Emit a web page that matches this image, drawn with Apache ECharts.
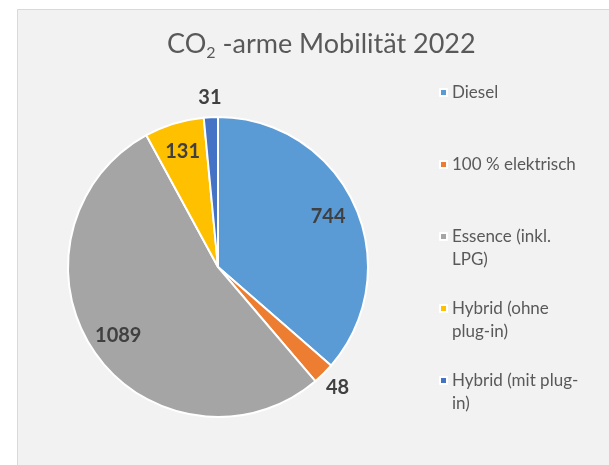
<!DOCTYPE html>
<html>
<head>
<meta charset="utf-8">
<script src="https://cdn.jsdelivr.net/npm/echarts@6/dist/echarts.min.js"></script>
<style>
  html, body { margin: 0; padding: 0; background: #ffffff; }
  #chart { width: 609px; height: 465px; }
</style>
</head>
<body>
<div id="chart"></div>
<script>
// ---- data ----
const categories = ['Diesel', '100 % elektrisch', 'Essence (inkl. LPG)', 'Hybrid (ohne plug-in)', 'Hybrid (mit plug-in)'];
const legendLines = [['Diesel'], ['100 % elektrisch'], ['Essence (inkl.', 'LPG)'], ['Hybrid (ohne', 'plug-in)'], ['Hybrid (mit plug-', 'in)']];
const values = [744, 48, 1089, 131, 31];
const colors = ['#5B9BD5', '#ED7D31', '#A5A5A5', '#FFC000', '#4472C4'];
const titleMain = 'CO';
const titleSub = '2';
const titleRest = ' -arme Mobilität 2022';

const total = values.reduce((a, b) => a + b, 0);
const FONT = 'Lato';
const CENTER = [218, 267];
const R = 150;

const chart = echarts.init(document.getElementById('chart'), null, { renderer: 'canvas' });

const labelStyle = { color: '#404040', fontSize: 20, fontWeight: 'bold', fontFamily: FONT };

chart.setOption({
  animation: false,
  backgroundColor: '#ffffff',
  graphic: [{
    type: 'rect', z: -10, silent: true,
    shape: { x: 17.5, y: 9.5, width: 620, height: 480 },
    style: { fill: '#f2f2f2', stroke: '#d9d9d9', lineWidth: 1 }
  }],
  title: {
    text: titleMain + '{sub|' + titleSub + '}' + titleRest,
    left: 167,
    top: 27,
    padding: 0,
    textStyle: {
      fontFamily: FONT, fontSize: 27, fontWeight: 'normal', color: '#595959', lineHeight: 34,
      rich: { sub: { fontFamily: FONT, fontSize: 16, color: '#595959', lineHeight: 17, verticalAlign: 'bottom' } }
    }
  },
  legend: {
    orient: 'vertical',
    left: 439,
    top: 58,
    padding: 0,
    itemWidth: 7,
    itemHeight: 7,
    itemGap: 3,
    icon: 'rect',
    selectedMode: false,
    data: categories,
    formatter: function (name) {
      const lines = legendLines[categories.indexOf(name)];
      return '\n' + lines.join('\n') + (lines.length === 1 ? '\n' : '');
    },
    textStyle: { fontFamily: FONT, fontSize: 17, color: '#595959', lineHeight: 23 }
  },
  series: [
    {
      type: 'pie',
      center: CENTER,
      radius: [0, R],
      startAngle: 90,
      clockwise: true,
      avoidLabelOverlap: false,
      label: { show: false },
      labelLine: { show: false },
      emphasis: { disabled: true },
      itemStyle: { borderColor: '#ffffff', borderWidth: 2 },
      data: categories.map((n, i) => ({ name: n, value: values[i], itemStyle: { color: colors[i] } }))
    },
    {
      type: 'pie',
      center: CENTER,
      radius: [86, R],
      startAngle: 90,
      clockwise: true,
      silent: true,
      avoidLabelOverlap: false,
      legendHoverLink: false,
      emphasis: { disabled: true },
      itemStyle: { color: 'rgba(0,0,0,0)', borderWidth: 0 },
      labelLine: { show: false },
      label: Object.assign({ position: 'inside', formatter: '{c}' }, labelStyle),
      data: categories.map((n, i) => ({ name: n, value: values[i], label: { show: values[i] / total > 0.05 } }))
    },
    {
      type: 'pie',
      center: CENTER,
      radius: [R, 184],
      startAngle: 90,
      clockwise: true,
      silent: true,
      avoidLabelOverlap: false,
      legendHoverLink: false,
      emphasis: { disabled: true },
      itemStyle: { color: 'rgba(0,0,0,0)', borderWidth: 0 },
      labelLine: { show: false },
      label: Object.assign({ position: 'inside', formatter: '{c}' }, labelStyle),
      data: categories.map((n, i) => ({ name: n, value: values[i], label: { show: values[i] / total <= 0.05 } }))
    }
  ]
});
</script>
</body>
</html>
